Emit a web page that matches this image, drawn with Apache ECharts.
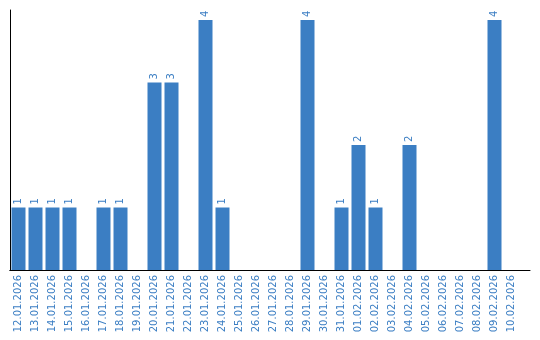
<!DOCTYPE html>
<html>
<head>
<meta charset="utf-8">
<script src="https://cdn.jsdelivr.net/npm/echarts@6/dist/echarts.min.js"></script>
<style>html,body{margin:0;padding:0;background:#fff}#c{width:540px;height:340px}</style>
</head>
<body>
<div id="c"></div>
<script>
var categories = ["12.01.2026","13.01.2026","14.01.2026","15.01.2026","16.01.2026","17.01.2026","18.01.2026","19.01.2026","20.01.2026","21.01.2026","22.01.2026","23.01.2026","24.01.2026","25.01.2026","26.01.2026","27.01.2026","28.01.2026","29.01.2026","30.01.2026","31.01.2026","01.02.2026","02.02.2026","03.02.2026","04.02.2026","05.02.2026","06.02.2026","07.02.2026","08.02.2026","09.02.2026","10.02.2026"];
var values = [1,1,1,1,0,1,1,0,3,3,0,4,1,0,0,0,0,4,0,1,2,1,0,2,0,0,0,0,4,0];
var blue = '#3b7ec3';
var chart = echarts.init(document.getElementById('c'), null, {renderer:'canvas'});
chart.setOption({
  animation:false,
  grid:[
    {left:10,right:20,top:10,bottom:70,containLabel:false},
    {left:10,right:10,top:10,bottom:70,containLabel:false}
  ],
  xAxis:[
    {type:'category',data:categories,gridIndex:0,
      axisLine:{lineStyle:{color:'#000',width:1}},
      axisTick:{show:false},
      axisLabel:{interval:0,rotate:90,color:blue,fontFamily:'DejaVu Sans',fontSize:10,margin:5}
    },
    {type:'value',gridIndex:1,min:0,max:1,
      axisLine:{show:true,lineStyle:{color:'#000',width:1}},
      axisTick:{show:false},axisLabel:{show:false},splitLine:{show:false}}
  ],
  yAxis:[
    {type:'value',gridIndex:0,min:0,max:4.16,
      axisLine:{show:true,lineStyle:{color:'#000',width:1}},
      axisTick:{show:false},axisLabel:{show:false},splitLine:{show:false}},
    {type:'value',gridIndex:1,min:0,max:1,show:false}
  ],
  series:[{type:'bar',data:values,barWidth:14,xAxisIndex:0,yAxisIndex:0,
    itemStyle:{color:blue},
    label:{show:true,position:'top',rotate:90,align:'left',verticalAlign:'middle',distance:3,
      color:blue,fontFamily:'DejaVu Sans',fontSize:10,
      formatter:function(p){return p.value?String(p.value):'';}}
  }]
});
</script>
</body>
</html>
